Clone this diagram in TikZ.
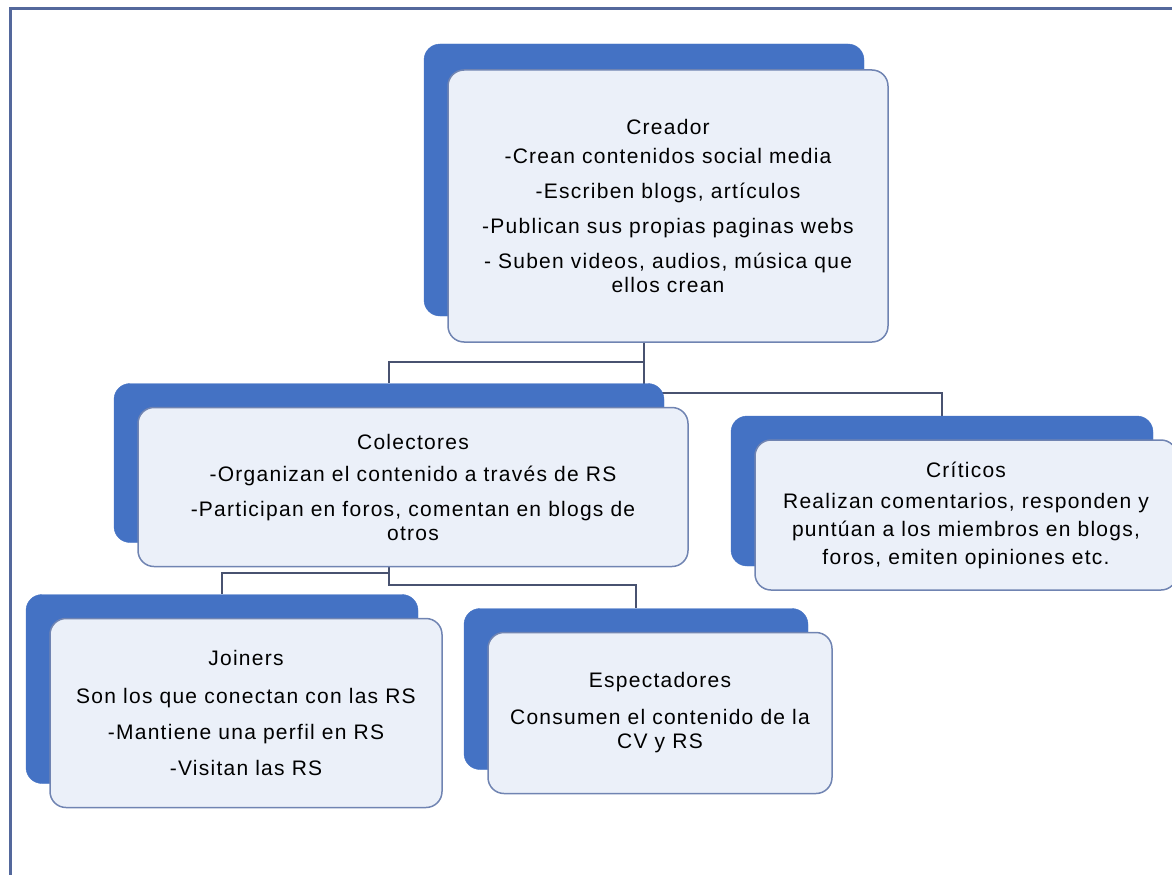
\documentclass[tikz,border=0pt]{standalone}
\usepackage{fontspec}
\setmainfont{Liberation Sans}[LetterSpace=6]
\usepackage{tikz}
\usetikzlibrary{backgrounds}
\definecolor{rolblue}{RGB}{68,114,196}
\definecolor{rolfill}{RGB}{235,240,249}
\definecolor{roledge}{RGB}{112,132,178}
\definecolor{linkgray}{RGB}{72,82,112}
\definecolor{framegray}{RGB}{84,104,156}
\tikzstyle{backblock} = [draw=rolblue, fill=rolblue, rounded corners=16pt, inner sep=0pt]
\tikzstyle{block} = [draw=roledge, fill=rolfill, line width=1.5pt, rounded corners=16pt, align=center, inner sep=0pt, font=\fontsize{21}{24}\selectfont]
\tikzstyle{link} = [draw=linkgray, line width=2pt]

\begin{document}
\begin{tikzpicture}[x=1pt, y=-1pt]
    \useasboundingbox (0,0) rectangle (1172,875);
    \node[backblock, minimum width=440pt, minimum height=272pt] (creadorback) at (644,180) {};
    \node[block, minimum width=440pt, minimum height=272pt] (creador) at ([shift={(24,26)}]creadorback.center) {Creador\\[5pt] -Crean contenidos social media\\[11pt] -Escriben blogs, artículos\\[11pt] -Publican sus propias paginas webs\\[11pt] - Suben videos, audios, música que\\ ellos crean};
    \node[backblock, minimum width=550pt, minimum height=159pt] (colectoresback) at (389,463) {};
    \node[block, minimum width=550pt, minimum height=159pt] (colectores) at ([shift={(24,24)}]colectoresback.center) {Colectores\\[8pt] -Organizan el contenido a través de RS\\[11pt] -Participan en foros, comentan en blogs de\\ otros};
    \node[backblock, minimum width=422pt, minimum height=150pt] (criticosback) at (942,491) {};
    \node[block, minimum width=422pt, minimum height=150pt] (criticos) at ([shift={(24,24)}]criticosback.center) {Críticos\\[7pt] Realizan comentarios, responden y\\[4pt] puntúan a los miembros en blogs,\\[4pt] foros, emiten opiniones etc.};
    \node[backblock, minimum width=392pt, minimum height=189pt] (joinersback) at (222,689) {};
    \node[block, minimum width=392pt, minimum height=189pt] (joiners) at ([shift={(24,24)}]joinersback.center) {Joiners\\[14pt] Son los que conectan con las RS\\[12pt] -Mantiene una perfil en RS\\[12pt] -Visitan las RS};
    \node[backblock, minimum width=344pt, minimum height=161pt] (espectadoresback) at (636,689) {};
    \node[block, minimum width=344pt, minimum height=161pt] (espectadores) at ([shift={(24,24)}]espectadoresback.center) {Espectadores\\[13pt] Consumen el contenido de la\\ CV y RS};
    \begin{scope}[on background layer]
        \draw[framegray, line width=3pt] (1172,9) -| (10,875);
        \draw[link] (creadorback.south) -- ++(0,46) -| (colectoresback.north);
        \draw[link] (creadorback.south) -- ++(0,77) -| (criticosback.north);
        \draw[link] (colectoresback.south) -- ++(0,30) -| (joinersback.north);
        \draw[link] (colectoresback.south) -- ++(0,42) -| (espectadoresback.north);
    \end{scope}
\end{tikzpicture}
\end{document}
